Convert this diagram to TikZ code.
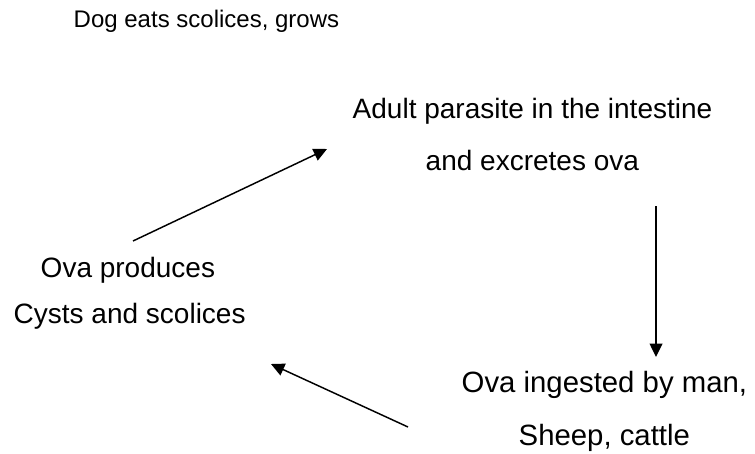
\documentclass[tikz,border=0pt]{standalone}
\usepackage{fontspec}
\setmainfont{Liberation Sans}
\usetikzlibrary{arrows.meta,positioning}
\tikzset{
	%Define styles for the labels
	lbl/.style={
		anchor=base west,
		inner sep=0pt,
		font=\fontsize{18}{21}\selectfont},
	biglbl/.style={
		lbl,
		font=\fontsize{21}{25}\selectfont},
	hostlbl/.style={
		lbl,
		font=\fontsize{22}{26}\selectfont}
}

\begin{document}
\begin{tikzpicture}[x=0.75pt,y=-0.75pt,->,>={Triangle[length=10pt,width=9.5pt]},
	line width=1.1pt]
	\useasboundingbox (0,0) rectangle (755,453);
	\node[lbl] (dog) at (73,28) {Dog eats scolices, grows};
	\node[biglbl] (adult) at (352,118) {Adult parasite in the intestine};
	\node[biglbl] (excrete) at (425,170) {and excretes ova};
	\node[biglbl] (ovaprod) at (40,277) {Ova produces};
	\node[biglbl] (cysts) at (13,323) {Cysts and scolices};
	\node[hostlbl] (ingest) at (461,392) {Ova ingested by man,};
	\node[hostlbl] (sheep) at (518,445) {Sheep, cattle};
	% arrow ends
	\coordinate (upstart) at (133,241);
	\coordinate (upend) at (327,149);
	\coordinate (downstart) at (656,206);
	\coordinate (downend) at (656,357);
	\coordinate (backstart) at (408,427);
	\coordinate (backend) at (271,364);
	\draw (upstart) -- (upend);
	\draw (downstart) -- (downend);
	\draw (backstart) -- (backend);
\end{tikzpicture}
\end{document}
